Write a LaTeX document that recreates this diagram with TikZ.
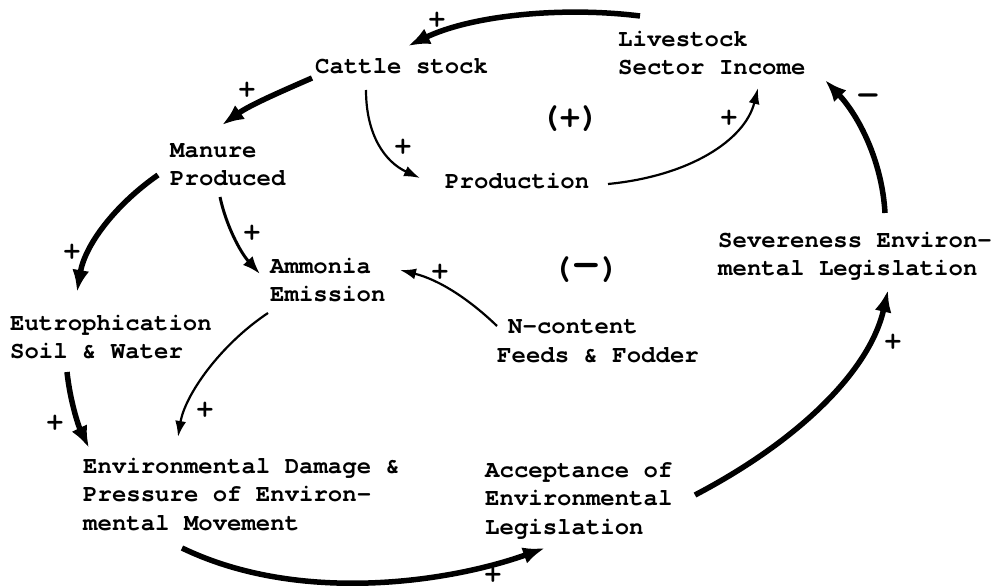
\documentclass[tikz,border=0pt]{standalone}
\usepackage{fontspec}
\usepackage{graphicx}
\newfontfamily\tw{TeX Gyre Cursor}
\usetikzlibrary{arrows.meta}
\begin{document}
\begin{tikzpicture}[x=1pt,y=-1pt,
  lbl/.style={anchor=north west,inner sep=0pt,align=left,
    font=\tw\bfseries\fontsize{24}{28.5}\selectfont},
  sgn/.style={inner sep=0pt,font=\tw\bfseries\fontsize{27}{28}\selectfont},
  loopsgn/.style={inner sep=0pt,font=\tw\bfseries\fontsize{33}{34}\selectfont},
  heavy/.style={line width=5.5pt,-{Latex[length=22pt,width=17pt]}},
  thin/.style={line width=2.2pt,-{Latex[length=16pt,width=11pt]}},
  medium/.style={line width=3pt,-{Latex[length=18pt,width=13pt]}}]
\useasboundingbox (0,0) rectangle (994,588);
% nodes
\node[lbl] (cattle) at (315,53) {\strut Cattle stock};
\node[lbl] (livestock) at (618,26) {\strut Livestock\\Sector Income};
\node[lbl] (manure) at (170,137) {\strut Manure\\Produced};
\node[lbl] (production) at (445,168) {\strut Production};
\node[lbl] (ammonia) at (270,253) {\strut Ammonia\\Emission};
\node[lbl] (severe) at (718,227) {\strut Severeness Environ-\\mental Legislation};
\node[lbl] (eutro) at (10,310) {\strut Eutrophication\\Soil \& Water};
\node[lbl] (ncontent) at (497,313.5) {\strut\hspace*{11pt}N-content\\Feeds \& Fodder};
\node[lbl] (envdmg) at (83,453) {\strut Environmental Damage \&\\Pressure of Environ-\\mental Movement};
\node[lbl] (accept) at (485,457) {\strut Acceptance of\\Environmental\\Legislation};
\node[loopsgn] (loopplus) at (570,119) {(+)};
\node[loopsgn] (loopminus) at (586,270) {(\scalebox{1.4}[1.3]{—})};
% connectors
\draw[heavy] ([shift={(22,-10)}]livestock.north west) .. controls (560,6) and (470,16) .. ([shift={(93,-7)}]cattle.north west);
\draw[heavy] ([shift={(-3,25)}]cattle.north west) .. controls (280,92) and (250,105) .. ([shift={(52,-12)}]manure.north west);
\draw[thin] ([shift={(51,37)}]cattle.north west) .. controls (366,135) and (385,162) .. ([shift={(-25,10)}]production.north west);
\draw[thin] ([shift={(163,16)}]production.north west) .. controls (690,176) and (745,140) .. ([shift={(140,62)}]livestock.north west);
\draw[heavy] ([shift={(-12,38)}]manure.north west) .. controls (115,205) and (85,245) .. ([shift={(67,-18)}]eutro.north west);
\draw[medium] ([shift={(50,60)}]manure.north west) .. controls (226,225) and (240,252) .. ([shift={(-10,21)}]ammonia.north west);
\draw[thin] ([shift={(0,12.5)}]ncontent.north west) .. controls (470,300) and (440,280) .. ([shift={(130,17)}]ammonia.north west);
\draw[thin] ([shift={(-2,60)}]ammonia.north west) .. controls (220,345) and (185,395) .. ([shift={(95,-16)}]envdmg.north west);
\draw[heavy] ([shift={(57,62)}]eutro.north west) .. controls (70,400) and (78,425) .. ([shift={(6,-5)}]envdmg.north west);
\draw[heavy] ([shift={(99,95)}]envdmg.north west) .. controls (300,605) and (450,582) .. ([shift={(60,91)}]accept.north west);
\draw[heavy] ([shift={(210,38)}]accept.north west) .. controls (800,440) and (870,370) .. ([shift={(170,63)}]severe.north west);
\draw[heavy] ([shift={(167,-14)}]severe.north west) .. controls (882,160) and (858,115) .. ([shift={(207,54)}]livestock.north west);
% signs
\node[sgn] (p1) at (437,20) {+};
\node[sgn] (p2) at (247,90) {+};
\node[sgn] (p3) at (403,147) {+};
\node[sgn] (p4) at (729,118) {+};
\node[sgn] (p5) at (72,252) {+};
\node[sgn] (p6) at (252,233) {+};
\node[sgn] (p7) at (440,272) {+};
\node[sgn] (p8) at (205,410) {+};
\node[sgn] (p9) at (55,423) {+};
\node[sgn] (p10) at (493,575) {+};
\node[sgn] (p11) at (893,342) {+};
\node[sgn] (m1) at (868,99) {\scalebox{1.4}[1.2]{–}};
\end{tikzpicture}
\end{document}
